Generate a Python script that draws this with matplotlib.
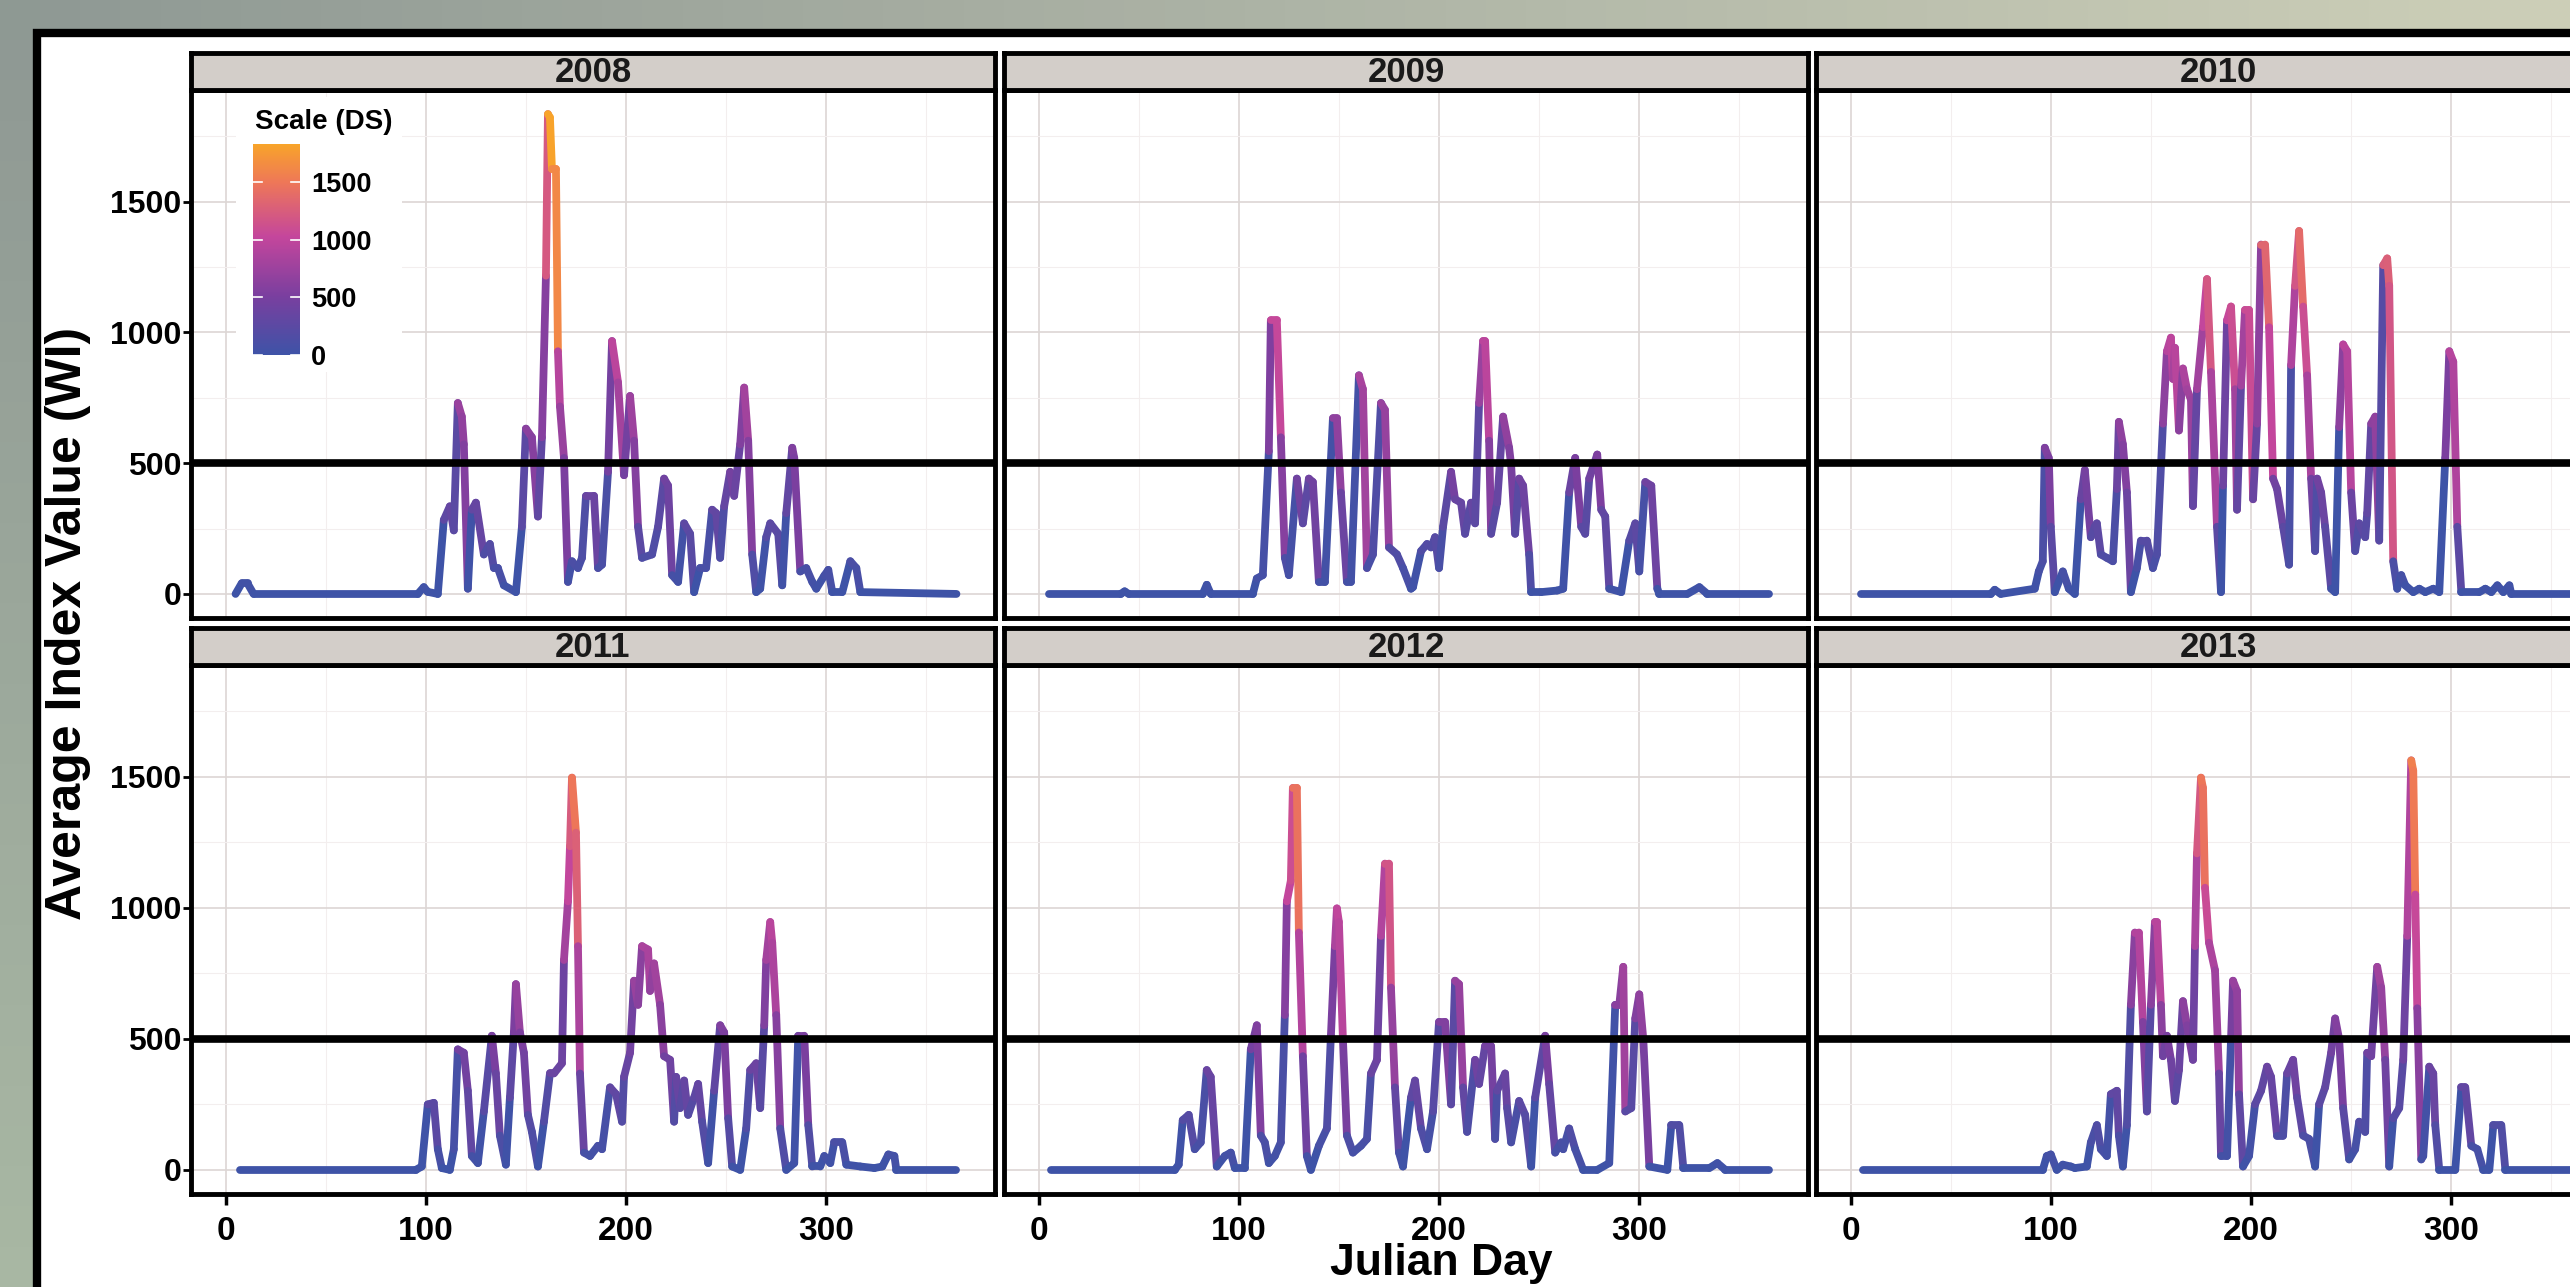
import numpy as np
import matplotlib
matplotlib.use("Agg")
import matplotlib.pyplot as plt
from matplotlib.collections import LineCollection
from matplotlib.colors import LinearSegmentedColormap, Normalize
from matplotlib.patches import Rectangle
from matplotlib.cm import ScalarMappable


# Average index value (WI) per Julian day
years = ["2008", "2009", "2010", "2011", "2012", "2013"]

days_2008 = [5, 8, 11, 14, 96, 99, 101, 106, 109, 112, 114, 116, 118, 119, 121, 123, 125, 129,
             132, 134, 136, 139, 145, 148, 150, 153, 156, 158, 160, 161, 162, 163, 165, 166,
             167, 169, 171, 173, 176, 178, 180, 184, 186, 188, 191, 193, 196, 199, 202, 204,
             206, 208, 213, 216, 219, 221, 223, 226, 229, 232, 234, 237, 240, 243, 245, 247,
             249, 252, 254, 257, 259, 261, 263, 265, 267, 270, 272, 276, 278, 280, 283, 284,
             287, 290, 293, 295, 299, 301, 303, 308, 312, 315, 317, 365]
wi_2008 = [0, 40, 40, 0, 0, 26, 8, 0, 283, 335, 243, 730, 678, 572, 20, 322, 349, 151,
           191, 99, 99, 33, 7, 257, 632, 599, 296, 599, 1217, 1835, 1822, 1625, 1625, 928,
           717, 520, 46, 125, 99, 138, 375, 375, 99, 112, 467, 967, 809, 454, 757, 586,
           257, 138, 151, 257, 441, 414, 72, 46, 270, 230, 7, 99, 99, 322, 309, 138,
           335, 467, 375, 572, 789, 586, 151, 7, 20, 217, 270, 230, 33, 309, 559, 520,
           86, 99, 46, 20, 70, 92, 7, 7, 125, 99, 7, 0]

days_2009 = [5, 41, 43, 45, 82, 84, 86, 107, 109, 112, 115, 116, 119, 121, 123, 125, 129, 132,
             135, 137, 140, 143, 147, 149, 151, 154, 156, 160, 162, 164, 167, 171, 173, 175,
             179, 182, 186, 187, 191, 194, 196, 198, 200, 202, 206, 208, 211, 213, 216, 218,
             220, 222, 223, 225, 226, 229, 232, 235, 236, 238, 240, 242, 245, 246, 251, 259,
             262, 265, 268, 271, 273, 275, 279, 281, 283, 285, 291, 295, 298, 300, 303, 306,
             309, 310, 324, 330, 334, 365]
wi_2009 = [0, 0, 10, 0, 0, 35, 0, 0, 59, 72, 546, 1046, 1046, 599, 138, 72, 441, 270,
           441, 428, 46, 46, 671, 671, 388, 46, 46, 836, 783, 99, 151, 730, 704, 178,
           151, 99, 20, 26, 164, 191, 178, 217, 99, 257, 467, 362, 349, 230, 349, 270,
           730, 967, 967, 586, 230, 349, 678, 559, 493, 230, 441, 414, 151, 7, 7, 13,
           20, 388, 520, 257, 230, 441, 533, 322, 296, 20, 7, 204, 270, 86, 428, 414,
           20, 0, 0, 26, 0, 0]

days_2010 = [5, 70, 72, 75, 92, 94, 96, 97, 99, 100, 102, 106, 109, 112, 115, 117, 120, 122,
             123, 125, 128, 131, 133, 134, 136, 138, 140, 143, 145, 148, 151, 153, 156, 158,
             160, 161, 162, 164, 166, 168, 170, 171, 173, 176, 178, 180, 183, 185, 186, 188,
             190, 192, 193, 195, 197, 199, 201, 203, 205, 207, 209, 211, 213, 216, 219, 220,
             222, 224, 226, 228, 230, 232, 233, 235, 237, 240, 242, 244, 246, 248, 250, 252,
             254, 257, 258, 260, 262, 264, 266, 268, 269, 271, 273, 275, 277, 281, 284, 287,
             291, 294, 297, 299, 301, 303, 305, 314, 317, 320, 323, 326, 329, 330, 365]
wi_2010 = [0, 0, 16, 0, 20, 86, 125, 559, 520, 257, 7, 86, 20, 0, 362, 474, 217, 257,
           270, 151, 138, 125, 401, 658, 572, 388, 7, 99, 204, 204, 99, 151, 651, 928,
           980, 822, 941, 625, 862, 783, 743, 336, 783, 1020, 1204, 849, 257, 7, 414, 1046,
           1099, 783, 322, 796, 1086, 1086, 362, 651, 1336, 1336, 1020, 441, 401, 257, 112, 875,
           1178, 1388, 1099, 836, 441, 164, 441, 388, 257, 20, 7, 638, 954, 928, 388, 164,
           270, 217, 309, 651, 678, 204, 1257, 1283, 1178, 125, 20, 72, 33, 7, 20, 7,
           20, 7, 520, 928, 888, 257, 7, 7, 20, 7, 33, 7, 33, 0, 0]

days_2011 = [7, 95, 98, 101, 104, 106, 108, 112, 114, 116, 119, 121, 123, 126, 129, 133, 135,
             137, 140, 142, 144, 145, 147, 149, 151, 153, 156, 159, 162, 164, 168, 169, 171,
             172, 173, 175, 176, 177, 179, 182, 186, 188, 192, 195, 198, 199, 202, 204, 206,
             208, 211, 212, 214, 217, 219, 222, 224, 225, 227, 229, 231, 234, 236, 238, 241,
             244, 247, 249, 251, 253, 257, 260, 262, 265, 267, 269, 270, 272, 273, 275, 277,
             280, 284, 286, 289, 291, 293, 297, 299, 302, 304, 308, 310, 317, 324, 328, 331,
             334, 335, 365]
wi_2011 = [0, 0, 13, 250, 256, 79, 7, 0, 79, 460, 447, 302, 53, 26, 223, 512, 368,
           131, 20, 276, 525, 709, 525, 447, 210, 145, 13, 184, 368, 368, 407, 801, 1025,
           1235, 1497, 1287, 854, 368, 66, 53, 92, 79, 315, 289, 184, 355, 447, 722, 630,
           854, 841, 683, 788, 630, 434, 420, 184, 355, 236, 341, 210, 276, 328, 184, 26,
           302, 552, 525, 197, 13, 0, 158, 381, 407, 236, 552, 801, 946, 867, 591, 158,
           0, 26, 512, 512, 171, 13, 13, 53, 26, 105, 105, 20, 13, 7, 13, 59,
           53, 0, 0]

days_2012 = [6, 68, 70, 72, 75, 78, 81, 84, 86, 89, 93, 96, 98, 103, 106, 109, 111, 113,
             115, 118, 121, 123, 124, 126, 127, 129, 130, 132, 134, 136, 140, 144, 146, 148,
             149, 150, 152, 154, 157, 161, 164, 166, 169, 171, 173, 175, 176, 178, 180, 182,
             186, 188, 191, 194, 197, 200, 203, 206, 208, 210, 212, 214, 218, 220, 223, 226,
             228, 229, 233, 234, 236, 240, 243, 246, 248, 253, 255, 258, 261, 262, 265, 268,
             272, 279, 285, 288, 290, 292, 293, 296, 298, 300, 302, 305, 314, 316, 320, 322,
             335, 339, 343, 365]
wi_2012 = [0, 0, 20, 190, 210, 79, 105, 381, 355, 13, 53, 66, 7, 7, 460, 552, 131, 105,
           26, 53, 105, 591, 1025, 1104, 1458, 1458, 906, 434, 53, 0, 92, 158, 512, 854,
           998, 946, 499, 131, 66, 92, 118, 368, 420, 893, 1169, 1169, 696, 315, 66, 13,
           276, 341, 158, 79, 223, 565, 565, 250, 722, 709, 315, 145, 420, 328, 473, 473,
           118, 302, 368, 236, 105, 263, 210, 13, 276, 512, 328, 66, 105, 79, 158, 79,
           0, 0, 26, 630, 630, 775, 223, 236, 578, 670, 499, 13, 0, 171, 171, 7,
           7, 26, 0, 0]

days_2013 = [6, 96, 98, 100, 103, 106, 110, 112, 118, 120, 123, 125, 128, 130, 133, 134, 136,
             138, 140, 142, 144, 146, 148, 150, 152, 153, 155, 156, 158, 160, 162, 164, 166,
             168, 171, 172, 173, 175, 176, 177, 179, 182, 184, 185, 188, 190, 191, 193, 194,
             196, 199, 202, 205, 208, 210, 213, 216, 218, 221, 223, 226, 229, 232, 234, 237,
             240, 242, 244, 246, 249, 252, 254, 257, 258, 260, 263, 265, 267, 269, 271, 274,
             276, 278, 280, 281, 282, 283, 285, 286, 289, 291, 292, 294, 302, 305, 307, 310,
             313, 316, 319, 321, 325, 327, 365]
wi_2013 = [0, 0, 53, 59, 0, 20, 13, 7, 13, 105, 171, 79, 53, 289, 302, 131, 13,
           171, 630, 906, 906, 565, 223, 630, 946, 946, 630, 434, 512, 420, 263, 381, 644,
           552, 420, 854, 1208, 1497, 1458, 1077, 867, 762, 368, 53, 53, 499, 722, 683, 289,
           13, 53, 250, 302, 394, 355, 131, 131, 368, 420, 276, 131, 118, 13, 250, 315,
           447, 578, 499, 236, 40, 79, 184, 145, 447, 434, 775, 696, 420, 13, 197, 236,
           420, 893, 1563, 1524, 1051, 617, 40, 53, 394, 368, 171, 0, 0, 315, 315, 92,
           79, 0, 0, 171, 171, 0, 0]

all_days = [days_2008, days_2009, days_2010, days_2011, days_2012, days_2013]
all_wi = [wi_2008, wi_2009, wi_2010, wi_2011, wi_2012, wi_2013]

x_ticks = [0, 100, 200, 300]
x_minor = [50, 150, 250, 350]
y_ticks = [0, 500, 1000, 1500]
y_minor = [250, 750, 1250, 1750]
threshold = 500
scale_ticks = [0, 500, 1000, 1500]

W, H = 2570, 1287


def fig_rect(left, top, width, height):
    '''
    Pixel box (from top-left) to figure fraction rect
    '''
    return [left / W, 1 - (top + height) / H, width / W, height / H]


def main():
    plt.rcParams['font.family'] = ['Liberation Sans', 'DejaVu Sans']
    plt.rcParams['font.weight'] = 'bold'

    fig = plt.figure(figsize=(W / 100, H / 100), dpi=100)

    # greyish green backdrop with a black framed white sheet on top
    bg = fig.add_axes([0, 0, 1, 1], zorder=-10)
    tl = np.array([0.56, 0.60, 0.58])
    tr = np.array([0.80, 0.81, 0.72])
    bl = np.array([0.66, 0.72, 0.64])
    br = np.array([0.78, 0.80, 0.72])
    u = np.linspace(0, 1, 64)[None, :, None]
    v = np.linspace(0, 1, 32)[:, None, None]
    grad = (1 - v) * ((1 - u) * tl + u * tr) + v * ((1 - u) * bl + u * br)
    bg.imshow(grad, extent=[0, 1, 0, 1], aspect='auto', origin='upper')
    bg.add_patch(Rectangle((37 / W, -0.2), 1.2, 1 - 33 / H + 0.2,
                           facecolor='white', edgecolor='black', lw=6))
    bg.set_xlim(0, 1)
    bg.set_ylim(0, 1)
    bg.axis('off')

    cmap = LinearSegmentedColormap.from_list(
        'ds', [(0.0, '#3e53a7'), (0.28, '#7a3f9f'), (0.56, '#c4469c'),
               (0.82, '#ee7758'), (1.0, '#f8a42a')])
    vmax = max(max(w) for w in all_wi)
    norm = Normalize(0, vmax)

    col_left = [191, 1004, 1816]
    row_top = [90, 665]
    panel_w = 804
    panel_h = [528, 529]
    strip_h = 37

    axes = []
    for i, year in enumerate(years):
        r, c = divmod(i, 3)
        ax = fig.add_axes(fig_rect(col_left[c], row_top[r], panel_w, panel_h[r]))
        strip = fig.add_axes(fig_rect(col_left[c], row_top[r] - strip_h, panel_w, strip_h))
        axes.append(ax)

        days = np.array(all_days[i], dtype=float)
        wi = np.array(all_wi[i], dtype=float)
        pts = np.column_stack([days, wi])
        segs = np.stack([pts[:-1], pts[1:]], axis=1)
        lc = LineCollection(segs, colors=cmap(norm(wi[:-1])), linewidths=5.6,
                            capstyle='round', joinstyle='round', zorder=3)
        ax.add_collection(lc)
        ax.axhline(threshold, color='black', lw=5.5, zorder=4)

        ax.set_xlim(-17.25, 384.25)
        ax.set_ylim(-92, 1927)
        ax.set_xticks(x_ticks)
        ax.set_xticks(x_minor, minor=True)
        ax.set_yticks(y_ticks)
        ax.set_yticks(y_minor, minor=True)
        ax.set_axisbelow(True)
        ax.grid(which='major', color='#ddd6d4', lw=1.2)
        ax.grid(which='minor', color='#f3eeee', lw=0.8)
        for s in ax.spines.values():
            s.set_linewidth(3.5)
            s.set_color('black')

        ax.tick_params(which='minor', length=0)
        ax.tick_params(axis='y', which='major', length=6, width=2, pad=1,
                       labelsize=23, left=(c == 0), labelleft=(c == 0))
        ax.tick_params(axis='x', which='major', length=8, width=2.5, pad=8,
                       labelsize=24, bottom=(r == 1), labelbottom=(r == 1))

        strip.set_facecolor('#d3cec9')
        strip.set_xticks([])
        strip.set_yticks([])
        for s in strip.spines.values():
            s.set_linewidth(3.5)
            s.set_color('black')
        strip.text(0.5, 0.47, year, ha='center', va='center', fontsize=25,
                   color='#1a1a1a', transform=strip.transAxes)

    # colour legend inside the first panel
    axes[0].add_patch(Rectangle((236 / W, 1 - 372 / H), 166 / W, 275 / H,
                                transform=fig.transFigure, facecolor='white',
                                edgecolor='none', zorder=1.5))
    cax = fig.add_axes(fig_rect(253, 355 - vmax * 0.115, 47, vmax * 0.115), zorder=5)
    cb = fig.colorbar(ScalarMappable(norm=norm, cmap=cmap), cax=cax, ticks=scale_ticks)
    cb.outline.set_visible(False)
    cax.tick_params(length=0, labelsize=19.5, pad=8)
    for v in scale_ticks:
        cax.axhline(v, 0, 0.2, color='white', lw=1.2)
        cax.axhline(v, 0.8, 1, color='white', lw=1.2)
    fig.text(255 / W, 1 - 122 / H, 'Scale (DS)', fontsize=20, ha='left', va='center',
             zorder=6)

    fig.text(68 / W, 1 - 623 / H, 'Average Index Value (WI)', rotation=90,
             ha='center', va='center', fontsize=36)
    # x title sits at the very bottom edge, as in the reference
    fig.text(1441 / W, 3 / H, 'Julian Day', ha='center', va='bottom', fontsize=32)

    fig.savefig('out.png', dpi=100)


if __name__ == "__main__":
    main()
